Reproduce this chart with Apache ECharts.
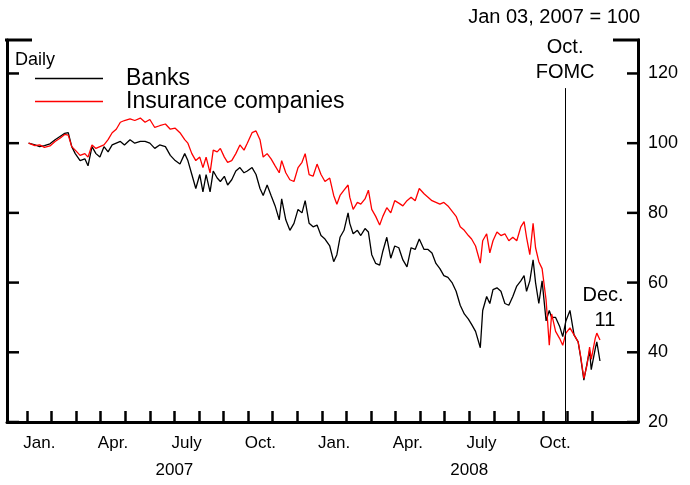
<!DOCTYPE html>
<html>
<head>
<meta charset="utf-8">
<script src="https://cdn.jsdelivr.net/npm/echarts@6/dist/echarts.min.js"></script>
<style>
  html, body { margin: 0; padding: 0; background: #fff; }
  #chart { width: 690px; height: 485px; }
</style>
</head>
<body>
<div id="chart"></div>
<script>
// index values, Jan 03, 2007 = 100 (roughly weekly)
const dates = [
  '2007-01-03','2007-01-11','2007-01-17','2007-01-23','2007-01-30','2007-02-05','2007-02-11','2007-02-16','2007-02-20','2007-02-24',
  '2007-02-28','2007-03-06','2007-03-12','2007-03-16','2007-03-21','2007-03-26','2007-03-31','2007-04-05','2007-04-10','2007-04-15',
  '2007-04-20','2007-04-25','2007-04-30','2007-05-07','2007-05-13','2007-05-20','2007-05-26','2007-06-01','2007-06-07','2007-06-13',
  '2007-06-20','2007-06-26','2007-07-02','2007-07-08','2007-07-14','2007-07-18','2007-07-23','2007-07-28','2007-08-02','2007-08-06',
  '2007-08-10','2007-08-15','2007-08-19','2007-08-24','2007-08-28','2007-09-02','2007-09-06','2007-09-11','2007-09-16','2007-09-21',
  '2007-09-26','2007-09-30','2007-10-06','2007-10-11','2007-10-16','2007-10-20','2007-10-25','2007-10-30','2007-11-04','2007-11-09',
  '2007-11-12','2007-11-17','2007-11-22','2007-11-27','2007-12-02','2007-12-07','2007-12-11','2007-12-16','2007-12-21','2007-12-26',
  '2007-12-31','2008-01-05','2008-01-11','2008-01-16','2008-01-20','2008-01-24','2008-01-29','2008-02-03','2008-02-05','2008-02-09',
  '2008-02-14','2008-02-18','2008-02-23','2008-02-27','2008-03-02','2008-03-07','2008-03-12','2008-03-16','2008-03-21','2008-03-26',
  '2008-03-31','2008-04-05','2008-04-10','2008-04-15','2008-04-20','2008-04-25','2008-04-30','2008-05-06','2008-05-11','2008-05-16',
  '2008-05-21','2008-05-26','2008-05-31','2008-06-05','2008-06-10','2008-06-15','2008-06-20','2008-06-25','2008-06-30','2008-07-04',
  '2008-07-09','2008-07-15','2008-07-18','2008-07-23','2008-07-27','2008-07-31','2008-08-05','2008-08-10','2008-08-15','2008-08-20',
  '2008-08-25','2008-08-30','2008-09-04','2008-09-08','2008-09-11','2008-09-15','2008-09-19','2008-09-22','2008-09-26','2008-09-30',
  '2008-10-05','2008-10-09','2008-10-12','2008-10-17','2008-10-22','2008-10-26','2008-10-30','2008-11-04','2008-11-09','2008-11-14',
  '2008-11-17','2008-11-21','2008-11-25','2008-11-28','2008-11-30','2008-12-05','2008-12-07','2008-12-11'
];

const banks = [
  100, 99.5, 99, 99.3, 99.8, 101, 102, 102.8, 103, 99,
  97, 95, 95.5, 93.5, 99, 97, 96, 99, 97.5, 99.5,
  100, 100.5, 99.5, 101, 100, 100.5, 100.5, 100, 98.5, 99.5,
  99, 96.5, 95, 94, 97, 95, 91, 87, 91, 86,
  91, 86, 92, 90, 89, 90.5, 88, 89.5, 92, 93,
  91.5, 92, 93, 91, 87, 85, 88, 85, 82, 78,
  84, 78, 75, 77, 81, 80, 83.5, 77, 76, 76.5,
  73.5, 72.5, 70.5, 66, 68, 73, 75, 80, 77, 74,
  75, 73.5, 75.5, 74.5, 68, 65.5, 65, 69, 73, 67,
  70.5, 70, 66.5, 64.5, 70, 69.5, 72.5, 69.5, 69.5, 68.5,
  65.5, 64, 62, 61.5, 60, 57.5, 53.5, 51, 49.5, 48,
  46, 41.3, 52, 56, 54, 58, 58.5, 57.5, 54, 53.5,
  56, 59, 60.5, 62, 57.5, 60.5, 66.5, 60, 54, 60.5,
  49, 52, 50, 50, 47.5, 44.5, 49, 52, 45, 43,
  38.7, 32, 37, 40.5, 35, 41, 43, 37.5
];

const insurance = [
  100, 99.3, 99.5, 98.8, 99.2, 100.5, 101.5, 102.5, 102.3, 99,
  98, 96.5, 97, 96, 99.5, 98.5, 99, 99.5, 101, 103,
  104, 106, 106.5, 107, 106.5, 107.2, 106, 106.8, 104.5, 105,
  105.5, 104, 104.3, 103, 101, 100, 97, 95, 96, 93,
  96, 91.5, 98, 97.5, 98.5, 96, 94.5, 95, 97, 99.5,
  98, 100, 103, 103.5, 101, 96, 97, 95.5, 93.5, 91.5,
  95, 91.5, 89.5, 89, 93, 94.5, 97, 91, 90.5, 94,
  91, 89, 90, 85, 82.5, 85, 86.5, 88, 84.5, 81,
  83, 82.5, 84, 86.5, 81, 79, 76.5, 79, 81.5, 80,
  83.5, 82.8, 82, 83.5, 84.5, 83.5, 87, 85.5, 84.5, 83.5,
  83, 82.5, 83, 82, 80.5, 79, 76, 75, 73.5, 72.5,
  70.5, 65.6, 72, 74, 68.5, 72, 74.5, 73.5, 74, 72,
  73, 72, 76, 77.5, 73, 68, 77, 70, 66, 64,
  55, 42, 51, 46, 44, 42, 45.5, 47, 45, 43,
  39, 32.5, 36.5, 41.5, 38, 44, 45.5, 43.5
];

const monthLabels = ['Jan.', 'Apr.', 'July', 'Oct.', 'Jan.', 'Apr.', 'July', 'Oct.'];
const monthLabelPos = [0.5, 3.5, 6.5, 9.5, 12.5, 15.5, 18.5, 21.5];
const monthTicks = [0,1,2,3,4,5,6,7,8,9,10,11,12,13,14,15,16,17,18,19,20,21,22,23];
const yearLabels = ['2007', '2008'];
const yearLabelPos = [6, 18];
const yTicks = [20, 40, 60, 80, 100, 120];
const fomcDate = '2008-10-29';

// months since Jan 1, 2007 (each month gets the same width on the axis)
function monthIndex(s) {
  const [y, m, d] = s.split('-').map(Number);
  const days = new Date(y, m, 0).getDate();
  return (y - 2007) * 12 + (m - 1) + (d - 1) / days;
}

const font = 'Liberation Sans, Arial, sans-serif';
const xMin = -0.814, xMax = 24.87;
const yMin = 20, yMax = 129.6;
const fomcX = monthIndex(fomcDate);

const chart = echarts.init(document.getElementById('chart'));

const baseGraphics = [
  { type: 'line', shape: { x1: 5, y1: 40, x2: 32, y2: 40 }, style: { stroke: '#000', lineWidth: 3 } },
  { type: 'line', shape: { x1: 613, y1: 40, x2: 640, y2: 40 }, style: { stroke: '#000', lineWidth: 3 } },
  { type: 'text', x: 640, y: 17, style: { text: 'Jan 03, 2007 = 100', font: '20px ' + font, fill: '#000', align: 'right', verticalAlign: 'middle' } },
  { type: 'text', x: 15, y: 60, style: { text: 'Daily', font: '18px ' + font, fill: '#000', align: 'left', verticalAlign: 'middle' } },
  { type: 'text', x: 603, y: 295, style: { text: 'Dec.', font: '20px ' + font, fill: '#000', align: 'center', verticalAlign: 'middle' } },
  { type: 'text', x: 605, y: 320, style: { text: '11', font: '20px ' + font, fill: '#000', align: 'center', verticalAlign: 'middle' } }
];

const option = {
  animation: false,
  textStyle: { fontFamily: font, color: '#000' },
  grid: { left: 7, right: 52, top: 40, bottom: 63 },
  legend: {
    left: 35, top: 67, orient: 'vertical', padding: 0,
    icon: 'rect', itemWidth: 68, itemHeight: 1.4, itemGap: 0,
    textStyle: { fontSize: 23, color: '#000', fontFamily: font, padding: [0, 0, 0, 18] },
    data: ['Banks', 'Insurance companies']
  },
  xAxis: [
    {
      type: 'value', min: xMin, max: xMax, position: 'bottom',
      axisLine: { onZero: false, lineStyle: { color: '#000', width: 3 } },
      axisTick: { show: true, inside: true, length: 11, customValues: monthTicks, lineStyle: { color: '#000', width: 2.5 } },
      axisLabel: {
        customValues: monthLabelPos, margin: 13, fontSize: 17, color: '#000', fontFamily: font,
        formatter: v => monthLabels[monthLabelPos.indexOf(v)]
      },
      splitLine: { show: false }
    },
    {
      type: 'value', min: xMin, max: xMax, position: 'bottom',
      axisLine: { show: false, onZero: false }, axisTick: { show: false },
      axisLabel: {
        customValues: yearLabelPos, margin: 40, fontSize: 17, color: '#000', fontFamily: font,
        formatter: v => yearLabels[yearLabelPos.indexOf(v)]
      },
      splitLine: { show: false }
    }
  ],
  yAxis: [
    {
      type: 'value', min: yMin, max: yMax, position: 'right',
      axisLine: { show: true, onZero: false, lineStyle: { color: '#000', width: 3 } },
      axisTick: { show: false },
      axisLabel: { customValues: yTicks, margin: 10, fontSize: 18, color: '#000', fontFamily: font },
      splitLine: { show: false }
    },
    {
      type: 'value', min: yMin, max: yMax, position: 'left',
      axisLine: { show: true, onZero: false, lineStyle: { color: '#000', width: 3 } },
      axisTick: { show: false }, axisLabel: { show: false }, splitLine: { show: false }
    }
  ],
  graphic: baseGraphics,
  series: [
    {
      name: 'Banks', type: 'line', symbol: 'none', xAxisIndex: 0, yAxisIndex: 0,
      lineStyle: { color: '#000', width: 1.3 }, itemStyle: { color: '#000' },
      data: dates.map((d, i) => [monthIndex(d), banks[i]]),
      markLine: {
        silent: true, symbol: ['none', 'none'],
        lineStyle: { color: '#000', width: 1, type: 'solid' },
        label: {
          show: true, position: 'end', formatter: 'Oct.\nFOMC', distance: 3,
          fontSize: 20, lineHeight: 25, color: '#000', fontFamily: font
        },
        data: [[{ coord: [fomcX, yMin] }, { coord: [fomcX, 115.8] }]]
      }
    },
    {
      name: 'Insurance companies', type: 'line', symbol: 'none', xAxisIndex: 0, yAxisIndex: 0,
      lineStyle: { color: '#ff0000', width: 1.3 }, itemStyle: { color: '#ff0000' },
      data: dates.map((d, i) => [monthIndex(d), insurance[i]])
    }
  ]
};

chart.setOption(option);

// inward y ticks on both frame sides, placed through the axis scales
const leftX = chart.convertToPixel({ xAxisIndex: 0 }, xMin);
const rightX = chart.convertToPixel({ xAxisIndex: 0 }, xMax);
const tickGraphics = [];
yTicks.forEach(v => {
  const py = chart.convertToPixel({ yAxisIndex: 0 }, v);
  tickGraphics.push({ type: 'line', shape: { x1: leftX, y1: py, x2: leftX + 12, y2: py }, style: { stroke: '#000', lineWidth: 2.5 } });
  tickGraphics.push({ type: 'line', shape: { x1: rightX - 11, y1: py, x2: rightX, y2: py }, style: { stroke: '#000', lineWidth: 2.5 } });
});
chart.setOption({ graphic: baseGraphics.concat(tickGraphics) });
</script>
</body>
</html>
